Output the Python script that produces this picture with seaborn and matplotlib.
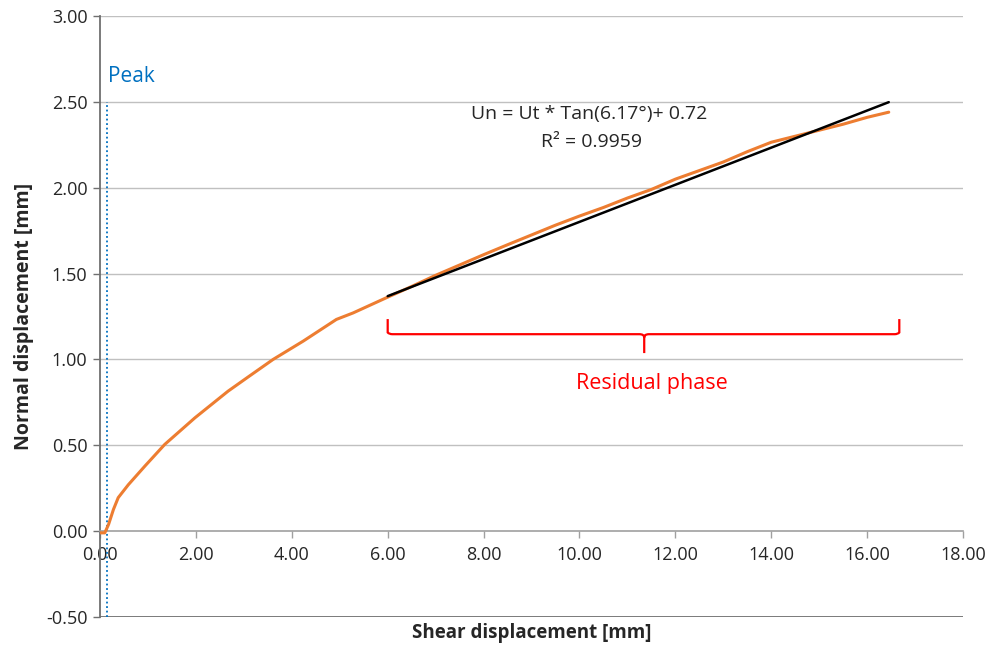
import numpy as np
import matplotlib
matplotlib.use("Agg")
import matplotlib.pyplot as plt
import seaborn as sns
from matplotlib.path import Path
from matplotlib.patches import PathPatch

# shear / normal displacement
shear_mm = [0, 0.1, 0.18, 0.28, 0.38, 0.59, 0.94, 1.35, 1.98, 2.67, 3.1, 3.61, 4.24,
            4.93, 5.28, 5.97, 6.5, 7.0, 7.5, 8.0, 8.5, 9.0, 9.5, 10.0, 10.5, 11.0,
            11.5, 12.0, 12.5, 13.0, 13.5, 14.0, 14.5, 15.0, 15.5, 16.0, 16.45]
normal_mm = [-0.01, -0.01, 0.04, 0.126, 0.195, 0.27, 0.38, 0.505, 0.66, 0.815, 0.9,
             1.0, 1.107, 1.233, 1.271, 1.359, 1.425, 1.49, 1.55, 1.61, 1.668, 1.725,
             1.782, 1.835, 1.885, 1.94, 1.99, 2.05, 2.10, 2.15, 2.21, 2.265, 2.30,
             2.335, 2.37, 2.41, 2.44]

# linear trend over residual phase
fit_angle_deg = 6.17
fit_intercept = 0.72
fit_range = [6.0, 16.45]
peak_shear = 0.15

x_ticks = np.arange(0, 18.01, 2)
y_ticks = np.arange(-0.5, 3.01, 0.5)

sns.set_style("white")
plt.rcParams['font.family'] = ['Open Sans', 'DejaVu Sans']

fig = plt.figure(figsize=(10.03, 6.46), dpi=100)
ax = fig.add_axes([0.0997, 0.0449, 0.8605, 0.9303])

# grid
for y in y_ticks:
    if y > 0:
        ax.axhline(y, color='#c0c0c0', lw=1.0, zorder=0)
ax.axhline(-0.5, color='#707070', lw=1.3, zorder=1)

sns.lineplot(x=shear_mm, y=normal_mm, ax=ax, color='#ED7D31', lw=2.2, sort=False, zorder=3)

fx = np.array(fit_range)
fy = fx * np.tan(np.radians(fit_angle_deg)) + fit_intercept
ax.plot(fx, fy, color='black', lw=1.8, zorder=4)

ax.plot([peak_shear, peak_shear], [-0.5, 2.5], color='#0070C0', lw=1.3, ls=(0, (1, 1.5)), zorder=2)
ax.text(peak_shear + 0.02, 2.65, 'Peak', color='#0070C0', fontsize=15, va='center', ha='left')

ax.text(10.2, 2.43, 'Un = Ut * Tan(6.17°)+ 0.72', fontsize=14, ha='center', va='center')
ax.text(10.25, 2.265, 'R² = 0.9959', fontsize=14, ha='center', va='center')

# curly brace for residual phase
xl, xr, xm = 6.0, 16.67, 11.35
yt, yb, ytip = 1.235, 1.147, 1.037
verts = [(xl, yt), (xl, yb + 0.01), (xl + 0.03, yb), (xl + 0.1, yb),
         (xm - 0.1, yb), (xm, yb), (xm, yb - 0.02), (xm, ytip),
         (xm, yb - 0.02), (xm, yb), (xm + 0.1, yb),
         (xr - 0.1, yb), (xr - 0.03, yb), (xr, yb + 0.01), (xr, yt)]
codes = [Path.MOVETO, Path.LINETO, Path.CURVE3, Path.CURVE3,
         Path.LINETO, Path.CURVE3, Path.CURVE3, Path.LINETO,
         Path.MOVETO, Path.CURVE3, Path.CURVE3,
         Path.LINETO, Path.CURVE3, Path.CURVE3, Path.LINETO]
ax.add_patch(PathPatch(Path(verts, codes), fill=False, edgecolor='#FF0000', lw=1.6, zorder=3))
ax.text(11.5, 0.86, 'Residual phase', color='#FF0000', fontsize=15.5, ha='center', va='center')

ax.set_xlim(0, 18)
ax.set_ylim(-0.5, 3.0)
ax.set_xticks(x_ticks)
ax.set_yticks(y_ticks)
ax.set_xticklabels([f'{v:.2f}' for v in x_ticks])
ax.set_yticklabels([f'{v:.2f}' for v in y_ticks])

for s in ['top', 'right']:
    ax.spines[s].set_visible(False)
ax.spines['bottom'].set_position(('data', 0))
ax.spines['bottom'].set_color('#a0a0a0')
ax.spines['bottom'].set_linewidth(1.2)
ax.spines['left'].set_color('#707070')
ax.spines['left'].set_linewidth(1.3)

ax.tick_params(axis='x', direction='out', length=5, width=1, color='#a0a0a0',
               labelsize=13, pad=6)
ax.tick_params(axis='y', direction='out', length=5, width=1, color='#707070',
               labelsize=13, pad=4)
ax.tick_params(axis='both', bottom=True, left=True)

ax.set_xlabel('Shear displacement [mm]', fontsize=13.5, fontweight='bold', va='top')
ax.set_ylabel('Normal displacement [mm]', fontsize=14, fontweight='bold')
ax.yaxis.set_label_coords(-0.077, 0.5)
# x label sits below the -0.5 baseline
ax.xaxis.set_label_coords(0.5, -0.01)

fig.savefig('out.png', dpi=100)
